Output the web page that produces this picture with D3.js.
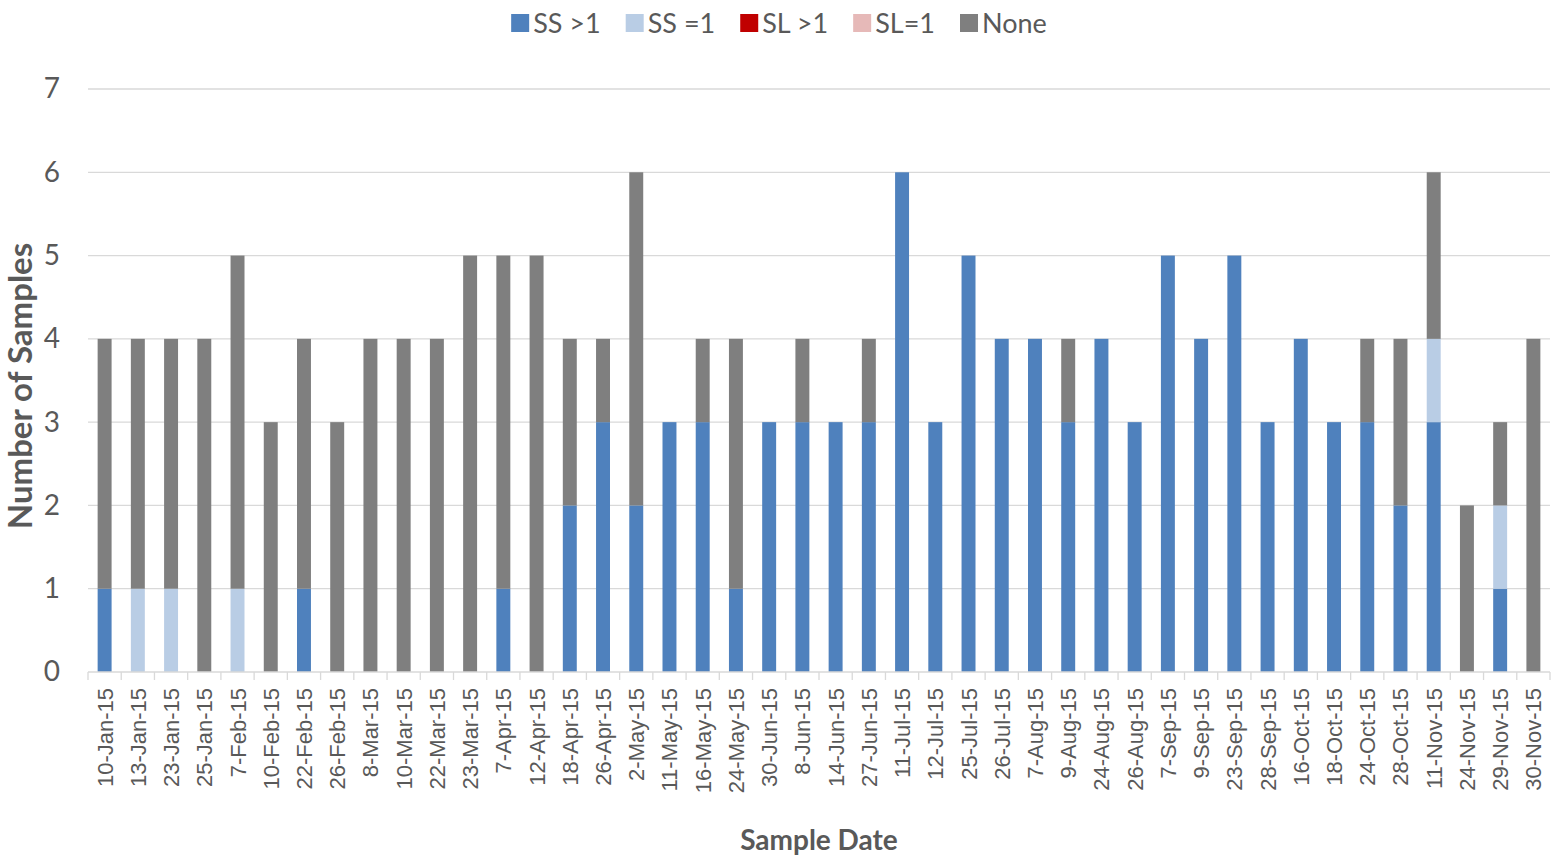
<!DOCTYPE html>
<html>
<head>
<meta charset="utf-8">
<script src="https://cdn.jsdelivr.net/npm/d3@7"></script>
<style>
  html, body { margin: 0; padding: 0; background: #fff; }
  svg { display: block; }
</style>
</head>
<body>
<svg id="chart" width="1557" height="857"></svg>
<script>
// Sample dates (category axis)
const dates = [
  "10-Jan-15","13-Jan-15","23-Jan-15","25-Jan-15","7-Feb-15","10-Feb-15","22-Feb-15","26-Feb-15",
  "8-Mar-15","10-Mar-15","22-Mar-15","23-Mar-15","7-Apr-15","12-Apr-15","18-Apr-15","26-Apr-15",
  "2-May-15","11-May-15","16-May-15","24-May-15","30-Jun-15","8-Jun-15","14-Jun-15","27-Jun-15",
  "11-Jul-15","12-Jul-15","25-Jul-15","26-Jul-15","7-Aug-15","9-Aug-15","24-Aug-15","26-Aug-15",
  "7-Sep-15","9-Sep-15","23-Sep-15","28-Sep-15","16-Oct-15","18-Oct-15","24-Oct-15","28-Oct-15",
  "11-Nov-15","24-Nov-15","29-Nov-15","30-Nov-15"
];

// Sample counts per category
const ssGt1 = [1,0,0,0,0,0,1,0, 0,0,0,0,1,0,2,3, 2,3,3,1,3,3,3,3, 6,3,5,4,4,3,4,3, 5,4,5,3,4,3,3,2, 3,0,1,0];
const ssEq1 = [0,1,1,0,1,0,0,0, 0,0,0,0,0,0,0,0, 0,0,0,0,0,0,0,0, 0,0,0,0,0,0,0,0, 0,0,0,0,0,0,0,0, 1,0,1,0];
const slGt1 = [0,0,0,0,0,0,0,0, 0,0,0,0,0,0,0,0, 0,0,0,0,0,0,0,0, 0,0,0,0,0,0,0,0, 0,0,0,0,0,0,0,0, 0,0,0,0];
const slEq1 = [0,0,0,0,0,0,0,0, 0,0,0,0,0,0,0,0, 0,0,0,0,0,0,0,0, 0,0,0,0,0,0,0,0, 0,0,0,0,0,0,0,0, 0,0,0,0];
const none  = [3,3,3,4,4,3,3,3, 4,4,4,5,4,5,2,1, 4,0,1,3,0,1,0,1, 0,0,0,0,0,1,0,0, 0,0,0,0,0,0,1,2, 2,2,1,4];

const seriesNames = ["SS >1", "SS =1", "SL >1", "SL=1", "None"];
const seriesColors = ["#4f81bd", "#b9cde5", "#c00000", "#e6b9b8", "#7f7f7f"];
const yTicks = [0,1,2,3,4,5,6,7];

const table = dates.map((d, i) => ({
  date: d,
  "SS >1": ssGt1[i], "SS =1": ssEq1[i], "SL >1": slGt1[i], "SL=1": slEq1[i], "None": none[i]
}));

const svg = d3.select("#chart");
const margin = { top: 89, right: 7, bottom: 185, left: 88 };
const W = 1557, H = 857;
const plotW = W - margin.left - margin.right;
const plotH = H - margin.top - margin.bottom;

const g = svg.append("g").attr("transform", `translate(${margin.left},${margin.top})`);

const x = d3.scaleBand().domain(dates).range([0, plotW]).paddingInner(0.58).paddingOuter(0.29);
const y = d3.scaleLinear().domain([0, 7]).range([plotH, 0]);

// Horizontal gridlines
g.append("g").selectAll("line").data(yTicks.filter(t => t > 0)).join("line")
  .attr("x1", 0).attr("x2", plotW)
  .attr("y1", d => y(d)).attr("y2", d => y(d))
  .attr("stroke", "#d9d9d9").attr("stroke-width", 1.3);

// Stacked bars
const stack = d3.stack().keys(seriesNames)(table);
const color = d3.scaleOrdinal().domain(seriesNames).range(seriesColors);

g.append("g").selectAll("g").data(stack).join("g")
  .attr("fill", d => color(d.key))
  .selectAll("rect").data(d => d).join("rect")
  .attr("x", d => x(d.data.date))
  .attr("width", x.bandwidth())
  .attr("y", d => y(d[1]))
  .attr("height", d => y(d[0]) - y(d[1]));

// Y axis labels
const yAxis = g.append("g").call(
  d3.axisLeft(y).tickValues(yTicks).tickFormat(d3.format("d")).tickSize(0).tickPadding(28));
yAxis.select(".domain").remove();
yAxis.selectAll("text")
  .attr("fill", "#595959")
  .style("font-family", "Lato, 'Open Sans', sans-serif")
  .style("font-size", "28px");

// X axis: baseline, category-boundary ticks, rotated labels
const xa = g.append("g").attr("transform", `translate(0,${plotH})`);
xa.append("line").attr("x1", 0).attr("x2", plotW).attr("y1", 0).attr("y2", 0)
  .attr("stroke", "#d9d9d9").attr("stroke-width", 1.3);
const step = x.step();
const bounds = d3.range(dates.length + 1).map(i => x(dates[0]) - x.paddingOuter() * step + i * step);
xa.selectAll(".tk").data(bounds).join("line").attr("class", "tk")
  .attr("x1", d => d).attr("x2", d => d).attr("y1", 0).attr("y2", 8)
  .attr("stroke", "#d9d9d9").attr("stroke-width", 1.3);
xa.selectAll(".lbl").data(dates).join("text").attr("class", "lbl")
  .attr("transform", d => `translate(${x(d) + x.bandwidth() / 2 + 8},16) rotate(-90)`)
  .attr("text-anchor", "end")
  .attr("fill", "#595959")
  .style("font-family", "'Liberation Sans', Arial, sans-serif")
  .style("font-size", "22px")
  .text(d => d);

// Axis titles
svg.append("text")
  .attr("transform", "translate(32,386) rotate(-90)")
  .attr("text-anchor", "middle")
  .attr("fill", "#595959")
  .style("font-family", "Lato, sans-serif").style("font-weight", "bold").style("font-size", "33px")
  .text("Number of Samples");

svg.append("text")
  .attr("x", margin.left + plotW / 2).attr("y", 850)
  .attr("text-anchor", "middle")
  .attr("fill", "#595959")
  .style("font-family", "Lato, sans-serif").style("font-weight", "bold").style("font-size", "28px")
  .text("Sample Date");

// Legend
const legend = svg.append("g");
const items = legend.selectAll("g").data(seriesNames).join("g");
items.append("rect").attr("width", 18).attr("height", 18).attr("y", 14).attr("fill", d => color(d));
items.append("text").attr("x", 22).attr("y", 33)
  .attr("fill", "#595959")
  .style("font-family", "Lato, sans-serif").style("font-size", "27px")
  .text(d => d);
let cx = 0;
items.each(function () {
  const w = this.querySelector("text").getComputedTextLength();
  d3.select(this).attr("transform", `translate(${cx},0)`);
  cx += 22 + w + 25;
});
const totalW = cx - 25;
legend.attr("transform", `translate(${779 - totalW / 2},0)`);
</script>
</body>
</html>
